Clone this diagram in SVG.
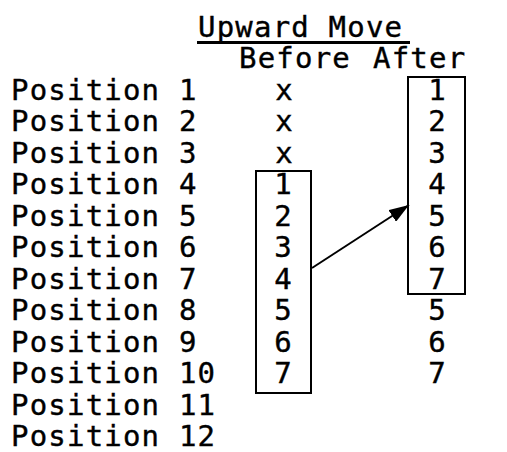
<svg xmlns="http://www.w3.org/2000/svg" width="507" height="452" viewBox="0 0 507 452">
<style>
text{font-family:"DejaVu Sans Mono","Liberation Mono",monospace;font-size:29px;fill:#000;stroke:#000;stroke-width:0.4;letter-spacing:1.2px}
.c{text-anchor:middle;letter-spacing:0}
.box{fill:none;stroke:#000;stroke-width:2}
.ln{stroke:#000;stroke-width:2;fill:none}
</style>
<defs>
<marker id="ah2" viewBox="0 0 20 14" refX="20" refY="7" markerWidth="20" markerHeight="14" markerUnits="userSpaceOnUse" orient="auto">
<path d="M0,0 L20,7 L0,14 z" fill="#000"/>
</marker>
</defs>
<g id="title">
<text x="198" y="37" letter-spacing="0.3">Upward Move</text>
<line x1="197" y1="42.5" x2="410" y2="42.5" stroke="#000" stroke-width="3"/>
<text x="239" y="68" letter-spacing="0.5">Before</text>
<text x="373" y="68" letter-spacing="2">After</text>
</g>
<g id="positions">
<text x="11" y="100">Position 1</text>
<text x="11" y="131">Position 2</text>
<text x="11" y="163">Position 3</text>
<text x="11" y="194">Position 4</text>
<text x="11" y="226">Position 5</text>
<text x="11" y="257">Position 6</text>
<text x="11" y="289">Position 7</text>
<text x="11" y="320">Position 8</text>
<text x="11" y="352">Position 9</text>
<text x="11" y="383">Position 10</text>
<text x="11" y="415">Position 11</text>
<text x="11" y="446">Position 12</text>
</g>
<g id="before">
<text class="c" x="284" y="100">x</text>
<text class="c" x="284" y="131">x</text>
<text class="c" x="284" y="163">x</text>
<rect class="box" x="256" y="171" width="55" height="222"/>
<text class="c" x="283" y="194">1</text>
<text class="c" x="283" y="226">2</text>
<text class="c" x="283" y="257">3</text>
<text class="c" x="283" y="289">4</text>
<text class="c" x="283" y="320">5</text>
<text class="c" x="283" y="352">6</text>
<text class="c" x="283" y="383">7</text>
</g>
<g id="after">
<rect class="box" x="408" y="77" width="57" height="217"/>
<text class="c" x="437" y="100">1</text>
<text class="c" x="437" y="131">2</text>
<text class="c" x="437" y="163">3</text>
<text class="c" x="437" y="194">4</text>
<text class="c" x="437" y="226">5</text>
<text class="c" x="437" y="257">6</text>
<text class="c" x="437" y="289">7</text>
<text class="c" x="437" y="320">5</text>
<text class="c" x="437" y="352">6</text>
<text class="c" x="437" y="383">7</text>
</g>
<g id="connectors">
<line class="ln" x1="312" y1="268" x2="409" y2="205" marker-end="url(#ah2)"/>
</g>
</svg>
